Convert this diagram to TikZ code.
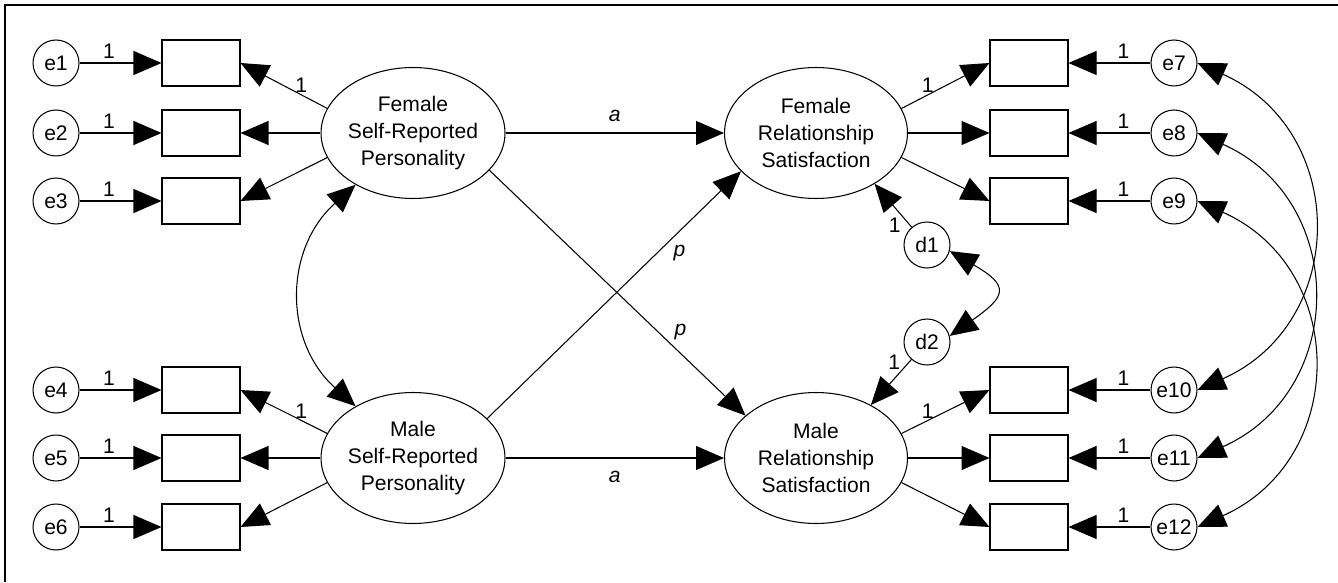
\documentclass[tikz,border=0pt]{standalone}
\usepackage{fontspec}
\setmainfont{Liberation Sans}
\usetikzlibrary{shapes.geometric,arrows.meta}

\begin{document}
\begin{tikzpicture}[x=0.02cm, y=0.02cm, line width=0.6pt,
    font=\fontsize{12pt}{15.4pt}\selectfont,
    latent/.style={draw, ellipse, align=center, inner sep=0pt, minimum width=3.66cm, minimum height=2.62cm},
    obs/.style={draw, rectangle, minimum width=1.56cm, minimum height=0.92cm},
    err/.style={draw, circle, inner sep=0pt, minimum size=0.92cm},
    reg/.style={-{Triangle[length=0.56cm, width=0.48cm]}},
    cov/.style={{Triangle[length=0.56cm, width=0.48cm]}-{Triangle[length=0.56cm, width=0.48cm]}},
    wt/.style={inner sep=1pt},
    ]
  \useasboundingbox (0,0) rectangle (1338,582);
  \draw[line width=1pt] (5,0) -- (5,577) -- (1338,577);

  \node[latent] (FSP) at (413,449) {Female\\Self-Reported\\Personality};
  \node[latent] (MSP) at (413,124) {Male\\Self-Reported\\Personality};
  \node[latent] (FRS) at (816,449) {Female\\Relationship\\Satisfaction};
  \node[latent] (MRS) at (816,124) {Male\\Relationship\\Satisfaction};
  \node[err] (d1) at (927,337) {d1};
  \node[err] (d2) at (927,240) {d2};

  % indicators with their errors
  \foreach \i/\y in {1/519, 2/449, 3/381, 4/192, 5/124, 6/55} {
    \node[err] (e\i) at (56,\y) {e\i};
    \node[obs] (r\i) at (201,\y) {};
    \draw[reg] (e\i) -- node[wt, pos=0.36, above=1.5pt] {1} (r\i);
  }
  \foreach \i/\y in {7/519, 8/449, 9/381, 10/192, 11/124, 12/55} {
    \node[err] (e\i) at (1174,\y) {e\i};
    \node[obs] (r\i) at (1029,\y) {};
    \draw[reg] (e\i) -- node[wt, pos=0.33, above=1.5pt] {1} (r\i);
  }

  \draw[reg] (FSP.164) -- node[wt, pos=0.3, above] {1} (r1.east);
  \draw[reg] (FSP.west) -- (r2.east);
  \draw[reg] (FSP.196) -- (r3.east);
  \draw[reg] (MSP.164) -- node[wt, pos=0.3, above] {1} (r4.east);
  \draw[reg] (MSP.west) -- (r5.east);
  \draw[reg] (MSP.196) -- (r6.east);
  \draw[reg] (FRS.16) -- node[wt, pos=0.3, above] {1} (r7.west);
  \draw[reg] (FRS.east) -- (r8.west);
  \draw[reg] (FRS.-16) -- (r9.west);
  \draw[reg] (MRS.16) -- node[wt, pos=0.3, above] {1} (r10.west);
  \draw[reg] (MRS.east) -- (r11.west);
  \draw[reg] (MRS.-16) -- (r12.west);

  % actor and partner paths
  \draw[reg] (FSP.east) -- node[wt, above=5pt] {\itshape a} (FRS.west);
  \draw[reg] (MSP.east) -- node[wt, below=6pt] {\itshape a} (MRS.west);
  \draw[reg] (MSP.28) -- node[wt, pos=0.67, right=8pt] {\itshape p} (FRS.207);
  \draw[reg] (FSP.-26) -- node[wt, pos=0.66, right=8pt] {\itshape p} (MRS.149);

  \draw[reg] (d1) -- node[wt, pos=0.05, left=4pt] {1} (FRS.-41);
  \draw[reg] (d2) -- node[wt, pos=0.05, left=4pt] {1} (MRS.44);

  % covariances
  \draw[cov] (FSP.222) to[out=222, in=138, looseness=1.12] (MSP.138);
  \draw[cov] (d1.-15) to[out=-30, in=35, looseness=2.1] (d2.15);
  \draw[cov] (e7.east) to[out=-24, in=24, looseness=1.3] (e10.east);
  \draw[cov] (e8.east) to[out=-24, in=24, looseness=1.3] (e11.east);
  \draw[cov] (e9.east) to[out=-24, in=24, looseness=1.3] (e12.east);
\end{tikzpicture}
\end{document}
